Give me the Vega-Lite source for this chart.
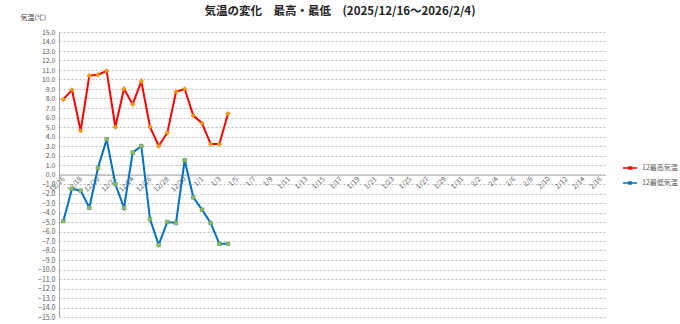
{
  "$schema": "https://vega.github.io/schema/vega-lite/v6.json",
  "width": 546,
  "height": 285,
  "autosize": {"type": "none"},
  "padding": {"left": 59, "top": 32, "right": 75, "bottom": 7},
  "background": "white",
  "title": {
    "text": "気温の変化　最高・最低　(2025/12/16～2026/2/4)",
    "anchor": "middle",
    "frame": "group",
    "dx": 8,
    "offset": -4,
    "font": "Noto Sans CJK JP",
    "fontSize": 11.5,
    "fontWeight": "bold",
    "color": "#222222"
  },
  "config": {
    "view": {"stroke": null},
    "font": "Noto Sans CJK JP"
  },
  "data": {
    "values": [
      {"date": "12/16", "series": "12最高気温", "temp": 7.9},
      {"date": "12/17", "series": "12最高気温", "temp": 8.9},
      {"date": "12/18", "series": "12最高気温", "temp": 4.6},
      {"date": "12/19", "series": "12最高気温", "temp": 10.4},
      {"date": "12/20", "series": "12最高気温", "temp": 10.5},
      {"date": "12/21", "series": "12最高気温", "temp": 10.9},
      {"date": "12/22", "series": "12最高気温", "temp": 5.0},
      {"date": "12/23", "series": "12最高気温", "temp": 9.0},
      {"date": "12/24", "series": "12最高気温", "temp": 7.4},
      {"date": "12/25", "series": "12最高気温", "temp": 9.8},
      {"date": "12/26", "series": "12最高気温", "temp": 5.0},
      {"date": "12/27", "series": "12最高気温", "temp": 3.0},
      {"date": "12/28", "series": "12最高気温", "temp": 4.4},
      {"date": "12/29", "series": "12最高気温", "temp": 8.7},
      {"date": "12/30", "series": "12最高気温", "temp": 9.0},
      {"date": "12/31", "series": "12最高気温", "temp": 6.2},
      {"date": "1/1", "series": "12最高気温", "temp": 5.4},
      {"date": "1/2", "series": "12最高気温", "temp": 3.2},
      {"date": "1/3", "series": "12最高気温", "temp": 3.2},
      {"date": "1/4", "series": "12最高気温", "temp": 6.4},
      {"date": "12/16", "series": "12最低気温", "temp": -4.9},
      {"date": "12/17", "series": "12最低気温", "temp": -1.5},
      {"date": "12/18", "series": "12最低気温", "temp": -1.7},
      {"date": "12/19", "series": "12最低気温", "temp": -3.5},
      {"date": "12/20", "series": "12最低気温", "temp": 0.7},
      {"date": "12/21", "series": "12最低気温", "temp": 3.7},
      {"date": "12/22", "series": "12最低気温", "temp": -1.0},
      {"date": "12/23", "series": "12最低気温", "temp": -3.5},
      {"date": "12/24", "series": "12最低気温", "temp": 2.3},
      {"date": "12/25", "series": "12最低気温", "temp": 3.0},
      {"date": "12/26", "series": "12最低気温", "temp": -4.7},
      {"date": "12/27", "series": "12最低気温", "temp": -7.4},
      {"date": "12/28", "series": "12最低気温", "temp": -5.0},
      {"date": "12/29", "series": "12最低気温", "temp": -5.1},
      {"date": "12/30", "series": "12最低気温", "temp": 1.5},
      {"date": "12/31", "series": "12最低気温", "temp": -2.4},
      {"date": "1/1", "series": "12最低気温", "temp": -3.7},
      {"date": "1/2", "series": "12最低気温", "temp": -5.1},
      {"date": "1/3", "series": "12最低気温", "temp": -7.3},
      {"date": "1/4", "series": "12最低気温", "temp": -7.3}
    ]
  },
  "encoding": {
    "x": {
      "field": "date",
      "type": "ordinal",
      "sort": null,
      "scale": {
        "type": "point",
        "padding": 0.5,
        "domain": ["12/16","12/17","12/18","12/19","12/20","12/21","12/22","12/23","12/24","12/25","12/26","12/27","12/28","12/29","12/30","12/31",
          "1/1","1/2","1/3","1/4","1/5","1/6","1/7","1/8","1/9","1/10","1/11","1/12","1/13","1/14","1/15","1/16","1/17","1/18","1/19","1/20","1/21","1/22","1/23","1/24","1/25","1/26","1/27","1/28","1/29","1/30","1/31",
          "2/1","2/2","2/3","2/4","2/5","2/6","2/7","2/8","2/9","2/10","2/11","2/12","2/13","2/14","2/15","2/16"]
      },
      "axis": {
        "title": null,
        "values": ["12/16","12/18","12/20","12/22","12/24","12/26","12/28","12/30","1/1","1/3","1/5","1/7","1/9","1/11","1/13","1/15","1/17","1/19","1/21","1/23","1/25","1/27","1/29","1/31","2/2","2/4","2/6","2/8","2/10","2/12","2/14","2/16"],
        "offset": -142.5,
        "labelAngle": -45,
        "labelAlign": "right",
        "labelBaseline": "middle",
        "labelPadding": 3,
        "labelFontSize": 7,
        "labelColor": "#595959",
        "ticks": false,
        "domainColor": "#a6a6a6",
        "domainWidth": 1,
        "grid": false
      }
    },
    "y": {
      "field": "temp",
      "type": "quantitative",
      "scale": {"domain": [-15, 15], "nice": false, "zero": false},
      "axis": {
        "title": "気温(℃)",
        "titleAngle": 0,
        "titleX": -39,
        "titleY": -15,
        "titleAlign": "left",
        "titleBaseline": "middle",
        "titleFontSize": 7,
        "titleFontWeight": "normal",
        "titleColor": "#404040",
        "values": [-15,-14,-13,-12,-11,-10,-9,-8,-7,-6,-5,-4,-3,-2,-1,0,1,2,3,4,5,6,7,8,9,10,11,12,13,14,15],
        "format": ".1f",
        "labelFontSize": 7,
        "labelColor": "#595959",
        "labelPadding": 4,
        "ticks": false,
        "domain": true,
        "domainColor": "#a6a6a6",
        "grid": true,
        "gridColor": "#bfbfbf",
        "gridDash": [2, 2],
        "gridWidth": 1
      }
    }
  },
  "layer": [
    {
      "mark": {"type": "line", "strokeWidth": 2},
      "encoding": {
        "stroke": {
          "field": "series",
          "type": "nominal",
          "scale": {"domain": ["12最高気温", "12最低気温"], "range": ["#FF0000", "#0070C0"]},
          "legend": {
            "title": null,
            "orient": "none",
            "legendX": 563,
            "legendY": 128,
            "symbolType": "M-1,0H1M-0.15,-0.15H0.15V0.15H-0.15Z",
            "symbolSize": 200,
            "symbolStrokeWidth": 1.5,
            "labelFontSize": 7,
            "labelColor": "#595959",
            "rowPadding": 2,
            "encode": {
              "symbols": {
                "update": {
                  "fill": {"signal": "datum.value === '12最高気温' ? '#FFA500' : '#9BBB59'"},
                  "fillOpacity": {"value": 1}
                }
              }
            }
          }
        }
      }
    },
    {
      "transform": [{"filter": "datum.series === '12最高気温'"}],
      "mark": {"type": "point", "shape": "diamond", "filled": true, "size": 20, "fill": "#FFA500", "stroke": "#E46C0A", "strokeWidth": 0.7, "opacity": 1}
    },
    {
      "transform": [{"filter": "datum.series === '12最低気温'"}],
      "mark": {"type": "point", "shape": "square", "filled": true, "size": 13, "fill": "#9BBB59", "stroke": "#4F9F6F", "strokeWidth": 0.7, "opacity": 1}
    }
  ]
}
